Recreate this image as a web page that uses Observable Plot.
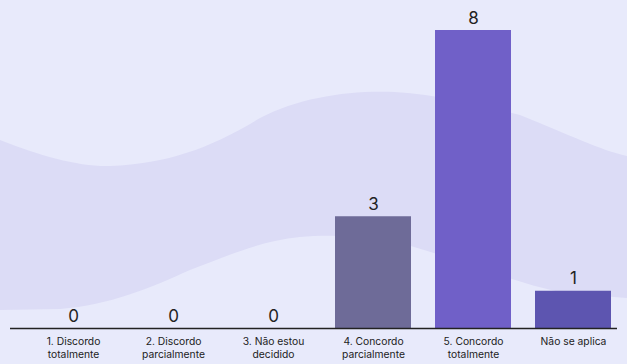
<!DOCTYPE html>
<html><head><meta charset="utf-8">
<script src="https://cdn.jsdelivr.net/npm/d3@7"></script>
<script src="https://cdn.jsdelivr.net/npm/@observablehq/plot@0.6"></script>
<style>
html,body{margin:0;padding:0;background:#e8eafb;}
#wrap{position:relative;width:627px;height:364px;overflow:hidden;background:#e8eafb;}
#bg{position:absolute;left:0;top:0;}
#chart{position:absolute;left:0;top:0;}
</style></head><body>
<div id="wrap">
<svg id="bg" width="627" height="364"><path fill="#dcdcf6" d="M0,140 C40,156 80,167 110,166 C170,163 210,148 260,118 C300,97 350,90 395,92 C440,95 480,105 520,115 C570,135 600,150 627,156 L627,298 C600,296 580,294 560,292 C530,286 500,275 470,265 C440,255 410,244 380,239 C350,235 320,235 300,237 C260,241 230,255 190,270 C150,288 110,305 60,309 L0,310 Z"/></svg>
<div id="chart"></div>
</div>
<script>
const categories = ["1. Discordo\ntotalmente","2. Discordo\nparcialmente","3. Não estou\ndecidido","4. Concordo\nparcialmente","5. Concordo\ntotalmente","Não se aplica"];
const values = [0,0,0,3,8,1];
const colors = ["#6e6b98","#6e6b98","#6e6b98","#6e6b98","#7060c8","#5d55b0"];
const data = categories.map((c,i)=>({category:c, value:values[i], color:colors[i]}));
const chart = Plot.plot({
  width:627, height:364, marginLeft:10, marginRight:10, marginTop:0, marginBottom:36,
  style:{background:"transparent", fontFamily:"Inter, 'DejaVu Sans', sans-serif", color:"#222"},
  x:{domain:categories, range:[23,623], paddingInner:0.24, paddingOuter:0.12, label:null},
  y:{domain:[0,8], range:[328,30], axis:null},
  color:{type:"identity"},
  marks:[
    Plot.barY(data,{x:"category", y:"value", fill:d=>d.color}),
    Plot.ruleY([0],{stroke:"#222", strokeWidth:1.5}),
    Plot.axisX({tickSize:0, tickPadding:7, fontSize:10.3, lineHeight:1.3, fill:"#222", label:null}),
    Plot.text(data,{x:"category", y:"value", text:d=>String(d.value), dy:-7, lineAnchor:"bottom", fontSize:17, fill:"#222"})
  ]
});
document.getElementById("chart").appendChild(chart);
</script>
</body></html>
